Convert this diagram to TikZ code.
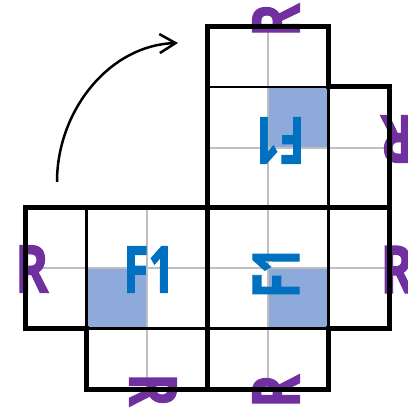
\documentclass[tikz,border=0pt]{standalone}
\usepackage{fontspec}
\setmainfont{Open Sans}
\newfontfamily\heavyfont{Open Sans}[BoldFeatures={FakeBold=2}]
\usetikzlibrary{arrows.meta}
\definecolor{fblue}{HTML}{0070C0}
\definecolor{rpurple}{HTML}{7030A0}
\definecolor{sqblue}{HTML}{8EAADB}
\definecolor{gridgray}{HTML}{BFBFBF}
\newcommand\myFone{\resizebox{51pt}{46pt}{F1}}
\newcommand\myR{\resizebox{33pt}{47pt}{R}}
\begin{document}
\begin{tikzpicture}[x=1pt,y=-1pt,
  thickline/.style={line width=5pt, black},
  thinline/.style={line width=2.5pt, black},
  grayline/.style={line width=2pt, gridgray},
  quad/.style={fill=sqblue, draw=none},
  flabel/.style={inner sep=0pt, text=fblue, font=\heavyfont\bfseries},
  rlabel/.style={inner sep=0pt, text=rpurple, font=\heavyfont\bfseries}]
\useasboundingbox (0,0) rectangle (407,409);
% blue quadrants
\fill[quad] (86.5,268) rectangle (147,328.5);
\fill[quad] (268,87) rectangle (328.5,147.5);
\fill[quad] (268,268) rectangle (328.5,328.5);
% gray centre lines
\draw[grayline] (25,268) -- (389,268);
\draw[grayline] (207.5,147.5) -- (389,147.5);
\draw[grayline] (147,207.5) -- (147,389);
\draw[grayline] (268,27) -- (268,389);
% labels
\node[flabel] (f1a) at (149,269.5) {\myFone};
\node[flabel, rotate=180] (f1b) at (279,140.5) {\myFone};
\node[flabel, rotate=90] (f1c) at (276,272.5) {\myFone};
\node[rlabel] (rl) at (32,269) {\myR};
\node[rlabel] (rr) at (397,269.5) {\myR};
\node[rlabel, rotate=180] (rtr) at (397,139) {\myR};
\node[rlabel, rotate=90] (rt) at (276,20) {\myR};
\node[rlabel, rotate=90] (rb) at (276,391) {\myR};
\node[rlabel, rotate=-90] (rbl) at (153,390) {\myR};
% thin black lines
\draw[thinline] (86.5,207.5) -- (86.5,328.5);
\draw[thinline] (86.5,328.5) -- (328.5,328.5);
\draw[thinline] (328.5,87) -- (328.5,328.5);
\draw[thinline] (207.5,87) -- (328.5,87);
% thick outline
\draw[thickline] (207.5,27) -- (328.5,27) -- (328.5,87) -- (389,87) -- (389,328.5) -- (328.5,328.5) -- (328.5,389) -- (86.5,389) -- (86.5,328.5) -- (25,328.5) -- (25,207.5) -- (207.5,207.5) -- cycle;
\draw[thickline] (207.5,207.5) -- (389,207.5);
\draw[thickline] (207.5,207.5) -- (207.5,389);
% arrow
\coordinate (astart) at (57,182);
\coordinate (aend) at (178,43);
\draw[line width=2.5pt, -{Straight Barb[length=16pt,width=19pt]}] (astart) .. controls (57,110) and (110,45) .. (aend);
\end{tikzpicture}
\end{document}
